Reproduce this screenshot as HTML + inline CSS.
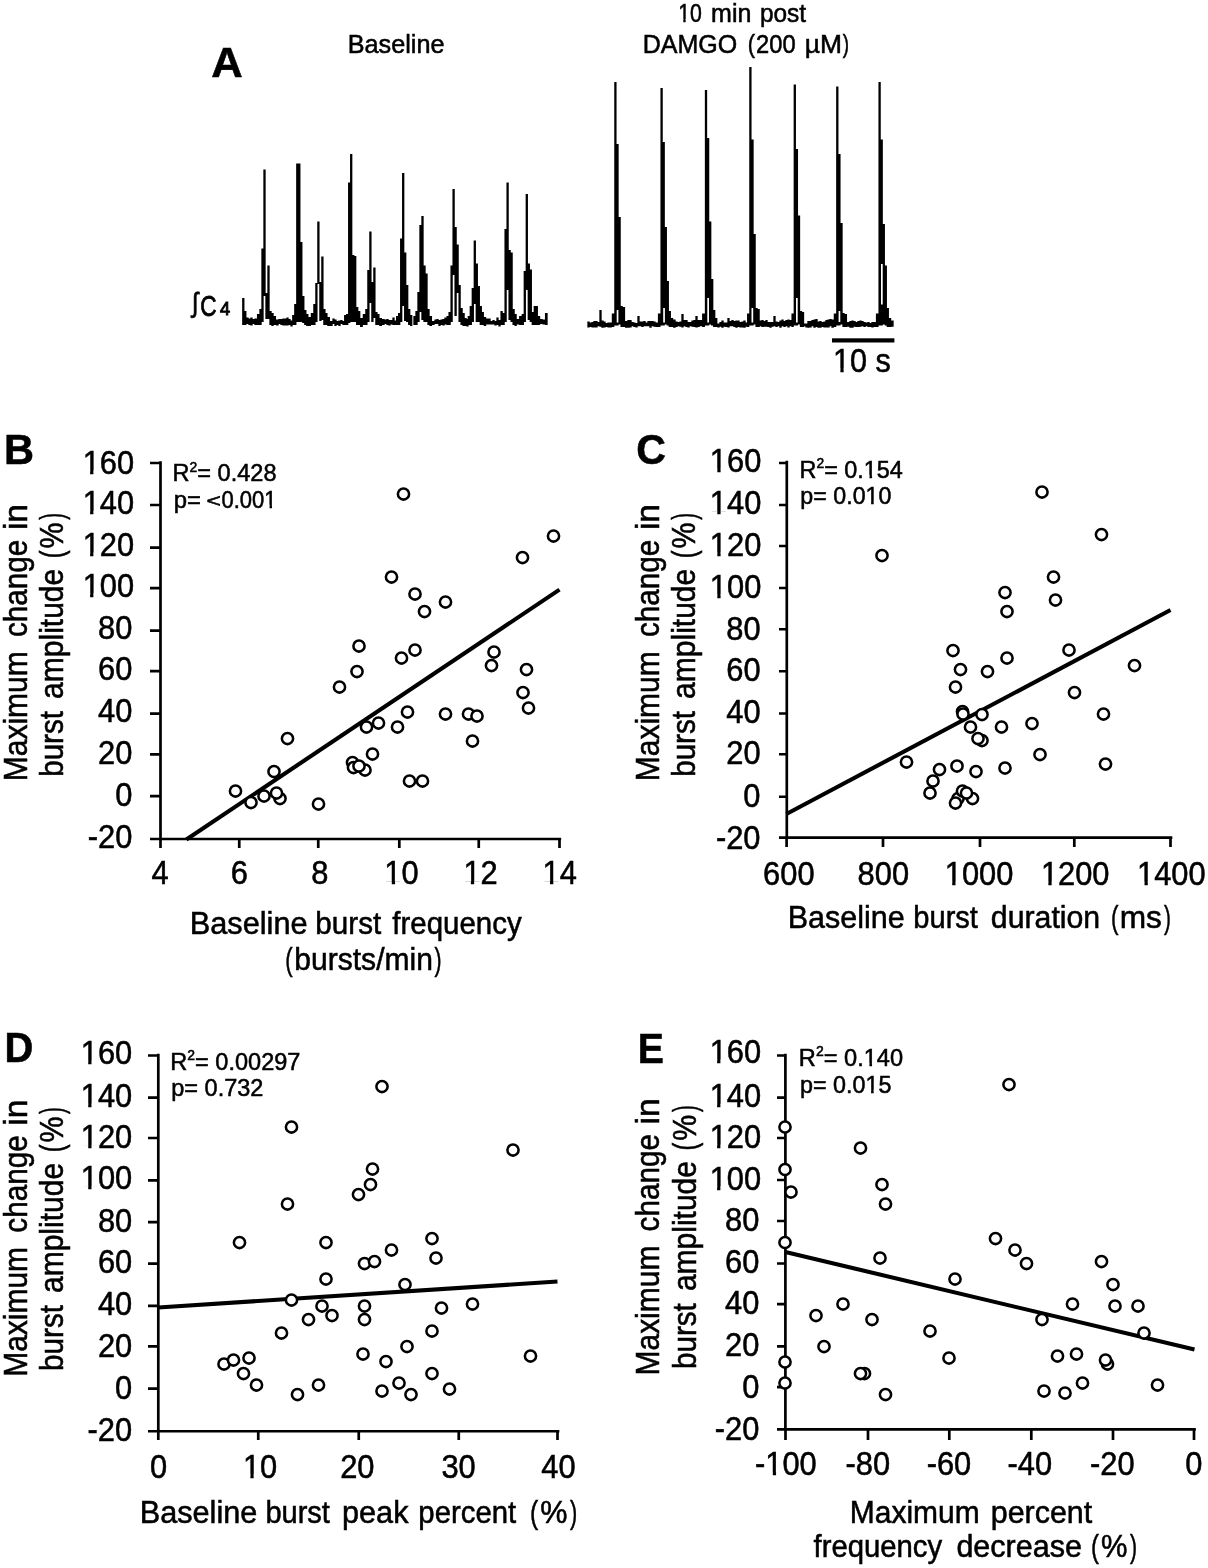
<!DOCTYPE html>
<html><head><meta charset="utf-8"><title>Figure</title>
<style>html,body{margin:0;padding:0;background:#fff;}svg{display:block;will-change:transform;}text{font-family:"Liberation Sans",sans-serif;}</style></head>
<body>
<svg width="1208" height="1568" viewBox="0 0 1208 1568" font-family='"Liberation Sans", sans-serif' fill="#000">
<rect width="1208" height="1568" fill="#fff"/>
<text transform="translate(211.19,77) scale(1.0135,1)" font-size="43" font-weight="bold" stroke="#000" stroke-width="0.55">A</text>
<text transform="translate(347.69,53) scale(0.9531,1)" font-size="26.5" stroke="#000" stroke-width="0.55">Baseline</text>
<g transform="translate(678.18,21.75) scale(0.8174,1)"><text font-size="26" stroke="#000" stroke-width="0.55">10</text><g fill="#fff"><rect x="0.51" y="-2.67" width="5.74" height="4.12"/><rect x="9.13" y="-2.67" width="5.53" height="4.12"/></g></g>
<text transform="translate(711.09,21.75) scale(0.9619,1)" font-size="26" stroke="#000" stroke-width="0.55">min</text>
<text transform="translate(759.94,21.75) scale(0.9406,1)" font-size="26" stroke="#000" stroke-width="0.55">post</text>
<text transform="translate(642.71,53) scale(0.9435,1)" font-size="26.5" stroke="#000" stroke-width="0.55">DAMGO</text>
<text transform="translate(747.67,53) scale(0.8194,1)" font-size="26.5" stroke="#000" stroke-width="0.55">(</text>
<text transform="translate(756.09,53) scale(0.8944,1)" font-size="26.5" stroke="#000" stroke-width="0.55">200</text>
<text transform="translate(804.74,53) scale(0.9963,1)" font-size="26.5" stroke="#000" stroke-width="0.55">µM</text>
<text transform="translate(842.63,53) scale(0.7116,1)" font-size="26.5" stroke="#000" stroke-width="0.55">)</text>
<text transform="translate(192.09,311.6) scale(0.8354,1)" font-size="27.5" stroke="#000" stroke-width="0.8">∫</text>
<text transform="translate(200.27,315.5) scale(0.7796,1)" font-size="29" stroke="#000" stroke-width="0.8">C</text>
<text transform="translate(219.94,314.8) scale(1.0410,1)" font-size="17.5" stroke="#000" stroke-width="0.9">4</text>
<path d="M242.15 298.0H244.45V325.0H242.15zM244.15 311.0H246.45V325.0H244.15zM246.35 317.5H248.65V324.0H246.35zM248.35 318.5H250.65V325.0H248.35zM250.35 317.5H252.65V325.5H250.35zM252.35 319.0H254.65V324.0H252.35zM254.35 318.5H257.05V325.0H254.35zM256.95 314.0H259.65V325.0H256.95zM259.35 309.0H261.65V325.0H259.35zM261.35 248.5H263.65V322.0H261.35zM263.35 169.5H265.65V296.0H263.35zM265.35 293.0H267.65V319.0H265.35zM267.35 265.5H269.65V319.0H267.35zM269.35 311.0H271.65V325.0H269.35zM271.35 313.0H273.65V326.0H271.35zM273.35 316.0H276.05V325.0H273.35zM275.95 319.5H278.65V325.5H275.95zM278.35 319.0H280.65V324.0H278.35zM280.35 319.0H282.65V325.0H280.35zM282.35 318.5H284.65V325.5H282.35zM284.35 318.5H286.65V325.5H284.35zM286.35 317.5H288.65V325.5H286.35zM288.35 319.0H290.65V325.0H288.35zM290.35 320.5H292.65V326.5H290.35zM292.15 315.0H294.45V325.0H292.15zM294.15 304.0H296.45V325.0H294.15zM296.15 163.5H298.45V322.0H296.15zM298.15 163.5H300.45V322.0H298.15zM300.15 242.0H302.45V322.0H300.15zM302.15 296.0H304.45V323.0H302.15zM304.15 310.0H306.45V325.0H304.15zM306.15 314.0H308.45V326.0H306.15zM308.15 317.0H310.90V326.0H308.15zM310.80 313.0H313.55V325.0H310.80zM313.25 304.0H315.55V325.0H313.25zM315.25 283.0H317.55V322.0H315.25zM317.25 221.5H319.55V284.0H317.25zM319.25 282.0H321.55V321.0H319.25zM321.25 256.5H323.55V320.0H321.25zM323.25 309.0H325.55V325.0H323.25zM325.25 313.0H327.55V325.0H325.25zM327.25 317.0H330.00V326.0H327.25zM329.90 321.0H332.65V326.0H329.90zM332.35 318.5H334.65V324.0H332.35zM334.35 319.5H336.65V326.0H334.35zM336.35 321.0H338.65V325.0H336.35zM338.35 320.5H340.65V326.0H338.35zM340.35 320.0H342.65V324.0H340.35zM342.35 321.0H344.65V325.0H342.35zM344.05 315.0H346.35V325.0H344.05zM346.05 314.0H348.35V325.0H346.05zM348.05 182.5H350.35V323.0H348.05zM350.05 154.0H352.35V322.0H350.05zM352.05 255.0H354.35V322.0H352.05zM354.05 256.0H356.35V322.0H354.05zM356.05 307.0H358.35V325.0H356.05zM358.05 311.0H360.35V325.0H358.05zM360.05 318.0H362.85V327.0H360.05zM362.75 314.0H365.55V325.0H362.75zM365.25 309.0H367.55V325.0H365.25zM367.25 270.0H369.55V322.0H367.25zM369.25 231.5H371.55V303.0H369.25zM371.25 282.0H373.55V322.0H371.25zM373.25 267.5H375.55V318.0H373.25zM375.25 312.0H377.55V325.0H375.25zM377.25 314.0H379.55V325.0H377.25zM379.25 318.0H382.00V326.0H379.25zM381.90 319.0H384.65V325.0H381.90zM384.35 319.5H386.65V324.0H384.35zM386.35 319.0H388.65V325.0H386.35zM388.35 320.0H390.65V325.5H388.35zM390.35 320.0H392.65V324.5H390.35zM392.35 317.5H394.65V325.0H392.35zM394.35 320.5H396.65V325.0H394.35zM396.05 316.0H398.35V325.0H396.05zM398.05 313.0H400.35V325.0H398.05zM400.05 238.5H402.35V322.0H400.05zM402.05 173.0H404.35V306.0H402.05zM404.05 252.5H406.35V321.0H404.05zM406.05 285.0H408.35V322.0H406.05zM408.05 309.0H410.35V325.0H408.05zM410.05 315.0H412.35V326.0H410.05zM413.35 316.0H415.65V325.0H413.35zM415.35 311.0H417.65V325.0H415.35zM417.35 292.0H419.65V322.0H417.35zM419.35 225.0H421.65V312.0H419.35zM421.35 216.0H423.65V320.0H421.35zM423.35 265.5H425.65V322.0H423.35zM425.35 273.5H427.65V322.0H425.35zM427.35 309.0H429.65V325.0H427.35zM429.35 316.0H432.05V326.0H429.35zM431.95 321.0H434.65V325.0H431.95zM434.35 319.5H436.65V324.0H434.35zM436.35 319.0H438.65V324.0H436.35zM438.35 320.0H440.65V326.0H438.35zM440.35 319.5H442.65V325.0H440.35zM442.35 319.0H444.65V325.5H442.35zM444.35 317.5H446.65V324.5H444.35zM446.45 316.0H448.75V325.0H446.45zM448.45 312.0H450.75V325.0H448.45zM450.45 265.5H452.75V322.0H450.45zM452.45 189.0H454.75V275.0H452.45zM454.45 227.0H456.75V316.0H454.45zM456.45 244.5H458.75V293.0H456.45zM458.45 285.0H460.75V322.0H458.45zM460.45 308.0H462.75V325.0H460.45zM462.45 313.0H464.75V326.0H462.45zM464.45 318.0H466.75V326.0H464.45zM466.35 319.0H468.65V326.5H466.35zM467.65 316.0H469.95V325.0H467.65zM469.65 306.0H471.95V325.0H469.65zM471.65 288.0H473.95V322.0H471.65zM473.65 240.5H475.95V304.0H473.65zM475.65 263.5H477.95V322.0H475.65zM477.65 286.0H479.95V322.0H477.65zM479.65 306.0H481.95V325.0H479.65zM481.65 312.0H483.95V325.0H481.65zM483.65 317.0H486.20V326.0H483.65zM486.10 318.5H488.65V324.5H486.10zM488.35 318.5H490.65V324.5H488.35zM490.35 321.0H492.65V324.5H490.35zM492.35 320.0H494.65V324.5H492.35zM494.35 321.0H496.65V325.5H494.35zM496.35 317.5H498.65V325.0H496.35zM498.35 320.0H500.65V326.5H498.35zM500.45 311.0H502.75V325.0H500.45zM502.45 313.0H504.75V325.0H502.45zM504.45 229.0H506.75V322.0H504.45zM506.45 182.5H508.75V290.0H506.45zM508.45 250.0H510.75V320.0H508.45zM510.45 252.5H512.75V322.0H510.45zM512.45 309.0H514.75V325.0H512.45zM514.45 314.0H516.75V326.0H514.45zM516.35 319.0H519.20V324.5H516.35zM519.10 316.0H521.95V325.0H519.10zM521.65 314.0H523.95V325.0H521.65zM523.65 271.0H525.95V322.0H523.65zM525.65 194.0H527.95V290.0H525.65zM527.65 263.5H529.95V320.0H527.65zM529.65 269.5H531.95V322.0H529.65zM531.65 312.0H533.95V325.0H531.65zM533.65 306.0H535.95V325.0H533.65zM535.65 306.0H537.95V325.0H535.65zM537.65 316.0H540.20V325.0H537.65zM540.10 319.0H542.65V324.0H540.10zM542.35 319.5H545.05V324.5H542.35zM544.95 313.0H547.65V325.0H544.95z" fill="#000"/>
<path d="M587.35 321.6H589.65V327.4H587.35zM589.35 322.6H591.65V327.0H589.35zM591.35 322.1H593.65V327.4H591.35zM593.35 321.1H595.65V327.4H593.35zM595.35 321.1H597.65V327.4H595.35zM597.35 322.1H599.65V326.2H597.35zM599.35 310.0H601.65V326.7H599.35zM601.35 320.6H603.65V327.8H601.35zM603.35 321.6H605.65V327.4H603.35zM605.35 323.1H607.65V327.0H605.35zM607.35 322.6H609.65V327.4H607.35zM609.35 322.6H611.90V327.4H609.35zM611.80 313.5H614.35V327.0H611.80zM614.25 82.0H616.55V325.5H614.25zM616.35 144.0H618.65V325.5H616.35zM618.45 217.0H620.75V324.5H618.45zM620.45 306.0H622.75V327.0H620.45zM622.45 307.0H625.10V327.0H622.45zM625.00 321.1H627.65V327.8H625.00zM627.35 320.1H629.65V327.8H627.35zM629.35 320.1H631.65V327.4H629.35zM631.35 322.1H633.65V326.2H631.35zM633.35 322.6H635.65V327.0H633.35zM635.35 323.1H637.65V327.4H635.35zM637.35 316.0H639.65V326.2H637.35zM639.35 321.6H641.65V326.2H639.35zM641.35 321.6H643.65V327.0H641.35zM643.35 321.1H645.65V326.2H643.35zM645.35 322.6H647.65V326.2H645.35zM647.35 321.1H649.65V326.2H647.35zM649.35 321.1H651.65V327.8H649.35zM651.35 321.1H653.65V326.2H651.35zM653.35 321.6H655.65V326.7H653.35zM655.35 322.6H658.00V327.0H655.35zM657.90 313.5H660.55V327.0H657.90zM660.45 88.0H662.75V325.5H660.45zM662.55 142.0H664.85V325.5H662.55zM664.65 227.0H666.95V324.5H664.65zM666.65 281.0H668.95V325.5H666.65zM668.65 311.0H670.95V327.0H668.65zM670.65 318.0H673.20V327.0H670.65zM673.10 319.6H675.65V327.8H673.10zM675.35 321.6H677.65V327.0H675.35zM677.35 322.1H679.65V326.2H677.35zM679.35 321.6H681.65V326.7H679.35zM681.35 314.0H683.65V327.4H681.35zM683.35 320.1H685.65V326.2H683.35zM685.35 320.1H687.65V327.0H685.35zM687.35 322.1H689.65V327.4H687.35zM689.35 322.1H691.65V326.2H689.35zM691.35 320.6H693.65V326.7H691.35zM693.35 320.1H695.65V327.0H693.35zM695.35 316.0H697.65V327.4H695.35zM697.35 320.1H699.65V327.0H697.35zM699.35 320.1H702.20V326.2H699.35zM702.10 313.5H704.95V327.0H702.10zM704.85 90.0H707.15V325.5H704.85zM706.95 138.0H709.25V325.5H706.95zM709.05 221.5H711.35V324.5H709.05zM711.05 279.0H713.35V325.5H711.05zM713.05 310.0H715.35V327.0H713.05zM715.05 318.0H717.40V327.0H715.05zM717.30 323.6H719.65V327.4H717.30zM719.35 322.1H721.65V326.7H719.35zM721.35 320.6H723.65V327.8H721.35zM723.35 322.6H725.65V326.7H723.35zM725.35 322.6H727.65V327.0H725.35zM727.35 318.0H729.65V327.4H727.35zM729.35 321.1H731.65V326.2H729.35zM731.35 320.1H733.65V326.2H731.35zM733.35 321.1H735.65V327.0H733.35zM735.35 320.6H737.65V327.8H735.35zM737.35 320.6H739.65V327.0H737.35zM739.35 322.1H741.65V327.4H739.35zM741.35 321.6H743.65V327.4H741.35zM743.35 320.6H745.65V327.8H743.35zM745.35 322.6H747.65V326.7H745.35zM747.05 313.5H749.35V327.0H747.05zM749.25 67.0H751.55V325.5H749.25zM751.35 139.5H753.65V325.5H751.35zM753.45 234.0H755.75V324.5H753.45zM755.45 308.0H757.75V327.0H755.45zM757.45 309.0H759.75V327.0H757.45zM759.35 320.6H761.65V326.2H759.35zM761.35 320.1H763.65V327.0H761.35zM763.35 321.1H765.65V326.7H763.35zM765.35 320.1H767.65V326.7H765.35zM767.35 322.1H769.65V327.0H767.35zM769.35 322.1H771.65V327.8H769.35zM771.35 322.1H773.65V326.7H771.35zM773.35 316.0H775.65V326.2H773.35zM775.35 321.6H777.65V327.0H775.35zM777.35 322.1H779.65V326.2H777.35zM779.35 320.6H781.65V327.8H779.35zM781.35 319.6H783.65V326.2H781.35zM783.35 321.1H785.65V327.0H783.35zM785.35 320.1H787.65V326.2H785.35zM787.35 319.6H789.65V327.4H787.35zM789.35 320.1H791.65V326.2H789.35zM791.45 313.5H793.75V327.0H791.45zM793.65 84.5H795.95V325.5H793.65zM795.75 149.0H798.05V325.5H795.75zM797.85 215.5H800.15V324.5H797.85zM799.85 311.0H802.15V327.0H799.85zM801.85 312.0H804.15V327.0H801.85zM803.35 323.6H805.65V326.2H803.35zM805.35 323.6H807.65V327.4H805.35zM807.35 321.1H809.65V327.8H807.35zM809.35 321.1H811.65V327.4H809.35zM811.35 320.1H813.65V326.2H811.35zM813.35 319.6H815.65V327.8H813.35zM815.35 319.1H817.65V327.0H815.35zM817.35 321.6H819.65V327.8H817.35zM819.35 321.1H821.65V327.8H819.35zM821.35 322.1H823.65V327.0H821.35zM823.35 321.6H825.65V327.4H823.35zM825.35 320.1H827.65V327.4H825.35zM827.35 319.6H829.65V327.4H827.35zM829.35 319.1H831.65V326.2H829.35zM831.35 319.6H833.85V327.8H831.35zM833.75 313.5H836.25V327.0H833.75zM836.15 86.5H838.45V325.5H836.15zM838.25 154.0H840.55V325.5H838.25zM840.35 223.0H842.65V324.5H840.35zM842.35 313.0H844.65V327.0H842.35zM844.35 314.0H847.05V327.0H844.35zM846.95 322.1H849.65V326.7H846.95zM849.35 321.1H851.65V327.8H849.35zM851.35 320.6H853.65V327.8H851.35zM853.35 321.1H855.65V326.7H853.35zM855.35 322.1H857.65V327.0H855.35zM857.35 321.1H859.65V327.0H857.35zM859.35 320.6H861.65V326.7H859.35zM861.35 321.1H863.65V326.2H861.35zM863.35 322.1H865.65V327.0H863.35zM865.35 322.6H867.65V326.2H865.35zM867.35 322.1H869.65V327.0H867.35zM869.35 323.1H871.65V327.0H869.35zM871.35 322.1H873.65V327.4H871.35zM873.35 322.1H876.00V327.0H873.35zM875.90 313.5H878.55V327.0H875.90zM878.45 82.0H880.75V325.5H878.45zM880.55 139.5H882.85V325.5H880.55zM882.65 224.0H884.95V324.5H882.65zM884.65 265.5H886.95V325.5H884.65zM886.65 308.0H888.95V327.0H886.65zM888.65 318.0H891.20V327.0H888.65zM891.10 320.6H893.65V326.7H891.10z" fill="#000"/>
<path d="M616.7 310h1.7V322.5h-1.7zM663.2 308h1.7V322.5h-1.7zM707.3 298h1.7V322.5h-1.7zM751.5 308h1.7V322.5h-1.7zM796.0 298h1.7V322.5h-1.7zM838.6 311h1.7V322h-1.7zM881.0 264h1.7V304.5h-1.7z" fill="#fff"/>
<rect x="832" y="338.3" width="62.4" height="4.2" fill="#000"/>
<g transform="translate(832.98,371.6) scale(0.9270,1)"><text font-size="33" stroke="#000" stroke-width="0.55">10 s</text><g fill="#fff"><rect x="1.04" y="-3.19" width="6.96" height="4.64"/><rect x="11.51" y="-3.19" width="6.71" height="4.64"/></g></g>
<text transform="translate(3.97,464) scale(0.9895,1)" font-size="42" font-weight="bold" stroke="#000" stroke-width="0.55">B</text>
<text transform="translate(636.13,464.3) scale(0.9796,1)" font-size="42" font-weight="bold" stroke="#000" stroke-width="0.55">C</text>
<text transform="translate(4.58,1062.3) scale(0.9504,1)" font-size="42" font-weight="bold" stroke="#000" stroke-width="0.55">D</text>
<text transform="translate(637.63,1062.5) scale(0.9332,1)" font-size="42" font-weight="bold" stroke="#000" stroke-width="0.55">E</text>
<path d="M160.5 461.15V840.35M150 839H561.15M150 463H160.5M150 505H160.5M150 547.6H160.5M150 588.2H160.5M150 630.6H160.5M150 671.2H160.5M150 713.7H160.5M150 754.3H160.5M150 796.2H160.5M160.5 839V848M239.25 839V848M318.25 839V848M399.3 839V848M478.75 839V848M559.5 839V848" stroke="#000" stroke-width="2.7" fill="none"/>
<g transform="translate(82.63,473.85) scale(0.9350,1)"><text font-size="33" stroke="#000" stroke-width="0.55">160</text><g fill="#fff"><rect x="1.04" y="-3.19" width="6.96" height="4.64"/><rect x="11.51" y="-3.19" width="6.71" height="4.64"/></g></g>
<g transform="translate(82.63,514.1) scale(0.9350,1)"><text font-size="33" stroke="#000" stroke-width="0.55">140</text><g fill="#fff"><rect x="1.04" y="-3.19" width="6.96" height="4.64"/><rect x="11.51" y="-3.19" width="6.71" height="4.64"/></g></g>
<g transform="translate(82.63,555.75) scale(0.9350,1)"><text font-size="33" stroke="#000" stroke-width="0.55">120</text><g fill="#fff"><rect x="1.04" y="-3.19" width="6.96" height="4.64"/><rect x="11.51" y="-3.19" width="6.71" height="4.64"/></g></g>
<g transform="translate(82.63,596.6) scale(0.9350,1)"><text font-size="33" stroke="#000" stroke-width="0.55">100</text><g fill="#fff"><rect x="1.04" y="-3.19" width="6.96" height="4.64"/><rect x="11.51" y="-3.19" width="6.71" height="4.64"/></g></g>
<text transform="translate(98.03,639.35) scale(0.9350,1)" font-size="33" stroke="#000" stroke-width="0.55">80</text>
<text transform="translate(98.03,679.95) scale(0.9350,1)" font-size="33" stroke="#000" stroke-width="0.55">60</text>
<text transform="translate(98.03,722.45) scale(0.9350,1)" font-size="33" stroke="#000" stroke-width="0.55">40</text>
<text transform="translate(98.03,763.95) scale(0.9350,1)" font-size="33" stroke="#000" stroke-width="0.55">20</text>
<text transform="translate(115.16,805.75) scale(0.9350,1)" font-size="33" stroke="#000" stroke-width="0.55">0</text>
<text transform="translate(87.70,848.25) scale(0.9350,1)" font-size="33" stroke="#000" stroke-width="0.55">-20</text>
<text transform="translate(151.51,884.4) scale(0.9350,1)" font-size="33" stroke="#000" stroke-width="0.55">4</text>
<text transform="translate(230.82,884.4) scale(0.9350,1)" font-size="33" stroke="#000" stroke-width="0.55">6</text>
<text transform="translate(311.19,884.4) scale(0.9350,1)" font-size="33" stroke="#000" stroke-width="0.55">8</text>
<g transform="translate(384.30,884.4) scale(0.9350,1)"><text font-size="33" stroke="#000" stroke-width="0.55">10</text><g fill="#fff"><rect x="1.04" y="-3.19" width="6.96" height="4.64"/><rect x="11.51" y="-3.19" width="6.71" height="4.64"/></g></g>
<g transform="translate(463.39,884.4) scale(0.9350,1)"><text font-size="33" stroke="#000" stroke-width="0.55">12</text><g fill="#fff"><rect x="1.04" y="-3.19" width="6.96" height="4.64"/><rect x="11.51" y="-3.19" width="6.71" height="4.64"/></g></g>
<g transform="translate(542.54,884.4) scale(0.9350,1)"><text font-size="33" stroke="#000" stroke-width="0.55">14</text><g fill="#fff"><rect x="1.04" y="-3.19" width="6.96" height="4.64"/><rect x="11.51" y="-3.19" width="6.71" height="4.64"/></g></g>
<line x1="186.4" y1="839.5" x2="559.5" y2="589.6" stroke="#000" stroke-width="4.1"/>
<g fill="#fff" stroke="#000" stroke-width="2.55"><circle cx="235.5" cy="791.0" r="5.6"/><circle cx="251.0" cy="802.5" r="5.6"/><circle cx="264.0" cy="796.0" r="5.6"/><circle cx="274.0" cy="771.5" r="5.6"/><circle cx="280.0" cy="798.5" r="5.6"/><circle cx="276.5" cy="793.0" r="5.6"/><circle cx="287.5" cy="738.5" r="5.6"/><circle cx="318.5" cy="804.0" r="5.6"/><circle cx="339.5" cy="687.0" r="5.6"/><circle cx="352.5" cy="762.5" r="5.6"/><circle cx="353.5" cy="767.5" r="5.6"/><circle cx="365.0" cy="770.0" r="5.6"/><circle cx="359.0" cy="766.0" r="5.6"/><circle cx="372.5" cy="754.0" r="5.6"/><circle cx="366.5" cy="727.0" r="5.6"/><circle cx="378.5" cy="723.0" r="5.6"/><circle cx="357.0" cy="671.5" r="5.6"/><circle cx="359.0" cy="646.0" r="5.6"/><circle cx="391.5" cy="577.0" r="5.6"/><circle cx="397.5" cy="727.0" r="5.6"/><circle cx="401.5" cy="658.0" r="5.6"/><circle cx="403.5" cy="494.0" r="5.6"/><circle cx="407.5" cy="712.0" r="5.6"/><circle cx="409.5" cy="781.0" r="5.6"/><circle cx="422.5" cy="781.0" r="5.6"/><circle cx="415.0" cy="650.0" r="5.6"/><circle cx="415.0" cy="594.0" r="5.6"/><circle cx="424.5" cy="611.5" r="5.6"/><circle cx="445.5" cy="602.0" r="5.6"/><circle cx="445.5" cy="714.0" r="5.6"/><circle cx="468.5" cy="714.0" r="5.6"/><circle cx="477.0" cy="716.0" r="5.6"/><circle cx="472.5" cy="741.0" r="5.6"/><circle cx="491.5" cy="665.5" r="5.6"/><circle cx="494.0" cy="652.0" r="5.6"/><circle cx="522.5" cy="557.5" r="5.6"/><circle cx="523.0" cy="692.5" r="5.6"/><circle cx="526.5" cy="669.5" r="5.6"/><circle cx="528.5" cy="708.0" r="5.6"/><circle cx="553.5" cy="536.0" r="5.6"/></g>
<path d="M786.8 460.65V838.95M779 837.6H1172.35M779 463H786.8M779 505H786.8M779 546H786.8M779 588H786.8M779 629.25H786.8M779 671.25H786.8M779 713.5H786.8M779 754.25H786.8M779 796.75H786.8M786.6 837.6V847M883 837.6V847M980 837.6V847M1074.3 837.6V847M1170.5 837.6V847" stroke="#000" stroke-width="2.7" fill="none"/>
<g transform="translate(709.83,471.85) scale(0.9350,1)"><text font-size="33" stroke="#000" stroke-width="0.55">160</text><g fill="#fff"><rect x="1.04" y="-3.19" width="6.96" height="4.64"/><rect x="11.51" y="-3.19" width="6.71" height="4.64"/></g></g>
<g transform="translate(709.83,514.35) scale(0.9350,1)"><text font-size="33" stroke="#000" stroke-width="0.55">140</text><g fill="#fff"><rect x="1.04" y="-3.19" width="6.96" height="4.64"/><rect x="11.51" y="-3.19" width="6.71" height="4.64"/></g></g>
<g transform="translate(709.83,555.6) scale(0.9350,1)"><text font-size="33" stroke="#000" stroke-width="0.55">120</text><g fill="#fff"><rect x="1.04" y="-3.19" width="6.96" height="4.64"/><rect x="11.51" y="-3.19" width="6.71" height="4.64"/></g></g>
<g transform="translate(709.83,597.6) scale(0.9350,1)"><text font-size="33" stroke="#000" stroke-width="0.55">100</text><g fill="#fff"><rect x="1.04" y="-3.19" width="6.96" height="4.64"/><rect x="11.51" y="-3.19" width="6.71" height="4.64"/></g></g>
<text transform="translate(726.23,639.85) scale(0.9350,1)" font-size="33" stroke="#000" stroke-width="0.55">80</text>
<text transform="translate(726.23,680.6) scale(0.9350,1)" font-size="33" stroke="#000" stroke-width="0.55">60</text>
<text transform="translate(726.23,722.85) scale(0.9350,1)" font-size="33" stroke="#000" stroke-width="0.55">40</text>
<text transform="translate(726.23,764.35) scale(0.9350,1)" font-size="33" stroke="#000" stroke-width="0.55">20</text>
<text transform="translate(743.36,806.85) scale(0.9350,1)" font-size="33" stroke="#000" stroke-width="0.55">0</text>
<text transform="translate(715.90,849.35) scale(0.9350,1)" font-size="33" stroke="#000" stroke-width="0.55">-20</text>
<text transform="translate(763.08,884.9) scale(0.9350,1)" font-size="33" stroke="#000" stroke-width="0.55">600</text>
<text transform="translate(857.60,884.9) scale(0.9350,1)" font-size="33" stroke="#000" stroke-width="0.55">800</text>
<g transform="translate(944.73,884.9) scale(0.9350,1)"><text font-size="33" stroke="#000" stroke-width="0.55">1000</text><g fill="#fff"><rect x="1.04" y="-3.19" width="6.96" height="4.64"/><rect x="11.51" y="-3.19" width="6.71" height="4.64"/></g></g>
<g transform="translate(1040.88,884.9) scale(0.9350,1)"><text font-size="33" stroke="#000" stroke-width="0.55">1200</text><g fill="#fff"><rect x="1.04" y="-3.19" width="6.96" height="4.64"/><rect x="11.51" y="-3.19" width="6.71" height="4.64"/></g></g>
<g transform="translate(1137.03,884.9) scale(0.9350,1)"><text font-size="33" stroke="#000" stroke-width="0.55">1400</text><g fill="#fff"><rect x="1.04" y="-3.19" width="6.96" height="4.64"/><rect x="11.51" y="-3.19" width="6.71" height="4.64"/></g></g>
<line x1="786.4" y1="814" x2="1170.5" y2="610" stroke="#000" stroke-width="4.1"/>
<g fill="#fff" stroke="#000" stroke-width="2.55"><circle cx="882.0" cy="555.5" r="5.6"/><circle cx="906.5" cy="762.0" r="5.6"/><circle cx="930.0" cy="793.0" r="5.6"/><circle cx="933.0" cy="781.0" r="5.6"/><circle cx="939.5" cy="769.5" r="5.6"/><circle cx="953.0" cy="650.5" r="5.6"/><circle cx="955.5" cy="687.0" r="5.6"/><circle cx="960.5" cy="669.5" r="5.6"/><circle cx="957.0" cy="766.0" r="5.6"/><circle cx="962.5" cy="711.5" r="5.6"/><circle cx="963.0" cy="714.0" r="5.6"/><circle cx="970.5" cy="727.0" r="5.6"/><circle cx="982.0" cy="740.5" r="5.6"/><circle cx="978.0" cy="738.5" r="5.6"/><circle cx="982.0" cy="714.5" r="5.6"/><circle cx="976.0" cy="771.5" r="5.6"/><circle cx="958.0" cy="798.5" r="5.6"/><circle cx="962.5" cy="791.0" r="5.6"/><circle cx="972.5" cy="798.5" r="5.6"/><circle cx="966.5" cy="793.0" r="5.6"/><circle cx="955.5" cy="803.0" r="5.6"/><circle cx="987.5" cy="671.5" r="5.6"/><circle cx="1001.5" cy="727.0" r="5.6"/><circle cx="1005.0" cy="592.5" r="5.6"/><circle cx="1007.0" cy="611.5" r="5.6"/><circle cx="1007.0" cy="658.0" r="5.6"/><circle cx="1005.0" cy="768.0" r="5.6"/><circle cx="1032.0" cy="723.5" r="5.6"/><circle cx="1040.0" cy="754.5" r="5.6"/><circle cx="1042.0" cy="492.0" r="5.6"/><circle cx="1053.5" cy="577.0" r="5.6"/><circle cx="1055.5" cy="600.0" r="5.6"/><circle cx="1069.0" cy="650.0" r="5.6"/><circle cx="1074.5" cy="692.5" r="5.6"/><circle cx="1101.5" cy="534.5" r="5.6"/><circle cx="1103.5" cy="714.0" r="5.6"/><circle cx="1105.5" cy="764.0" r="5.6"/><circle cx="1134.5" cy="665.5" r="5.6"/></g>
<path d="M158.3 1053.65V1432.6M148 1431.25H559.35M148 1055.5H158.3M148 1097.7H158.3M148 1138H158.3M148 1180.3H158.3M148 1222.2H158.3M148 1263.6H158.3M148 1305.8H158.3M148 1346.4H158.3M148 1388.6H158.3M158.3 1431.25V1440M258.25 1431.25V1440M358.75 1431.25V1440M458.75 1431.25V1440M557.5 1431.25V1440" stroke="#000" stroke-width="2.7" fill="none"/>
<g transform="translate(80.73,1063.95) scale(0.9350,1)"><text font-size="33" stroke="#000" stroke-width="0.55">160</text><g fill="#fff"><rect x="1.04" y="-3.19" width="6.96" height="4.64"/><rect x="11.51" y="-3.19" width="6.71" height="4.64"/></g></g>
<g transform="translate(80.73,1106.75) scale(0.9350,1)"><text font-size="33" stroke="#000" stroke-width="0.55">140</text><g fill="#fff"><rect x="1.04" y="-3.19" width="6.96" height="4.64"/><rect x="11.51" y="-3.19" width="6.71" height="4.64"/></g></g>
<g transform="translate(80.73,1148.25) scale(0.9350,1)"><text font-size="33" stroke="#000" stroke-width="0.55">120</text><g fill="#fff"><rect x="1.04" y="-3.19" width="6.96" height="4.64"/><rect x="11.51" y="-3.19" width="6.71" height="4.64"/></g></g>
<g transform="translate(80.73,1189.25) scale(0.9350,1)"><text font-size="33" stroke="#000" stroke-width="0.55">100</text><g fill="#fff"><rect x="1.04" y="-3.19" width="6.96" height="4.64"/><rect x="11.51" y="-3.19" width="6.71" height="4.64"/></g></g>
<text transform="translate(97.93,1231.75) scale(0.9350,1)" font-size="33" stroke="#000" stroke-width="0.55">80</text>
<text transform="translate(97.93,1272.95) scale(0.9350,1)" font-size="33" stroke="#000" stroke-width="0.55">60</text>
<text transform="translate(97.93,1314.85) scale(0.9350,1)" font-size="33" stroke="#000" stroke-width="0.55">40</text>
<text transform="translate(97.93,1356.75) scale(0.9350,1)" font-size="33" stroke="#000" stroke-width="0.55">20</text>
<text transform="translate(115.06,1398.85) scale(0.9350,1)" font-size="33" stroke="#000" stroke-width="0.55">0</text>
<text transform="translate(87.60,1440.75) scale(0.9350,1)" font-size="33" stroke="#000" stroke-width="0.55">-20</text>
<text transform="translate(149.90,1477.5) scale(0.9350,1)" font-size="33" stroke="#000" stroke-width="0.55">0</text>
<g transform="translate(242.90,1477.5) scale(0.9350,1)"><text font-size="33" stroke="#000" stroke-width="0.55">10</text><g fill="#fff"><rect x="1.04" y="-3.19" width="6.96" height="4.64"/><rect x="11.51" y="-3.19" width="6.71" height="4.64"/></g></g>
<text transform="translate(340.18,1477.5) scale(0.9350,1)" font-size="33" stroke="#000" stroke-width="0.55">20</text>
<text transform="translate(441.38,1477.5) scale(0.9350,1)" font-size="33" stroke="#000" stroke-width="0.55">30</text>
<text transform="translate(541.36,1477.5) scale(0.9350,1)" font-size="33" stroke="#000" stroke-width="0.55">40</text>
<line x1="158.3" y1="1307.5" x2="557.5" y2="1281.5" stroke="#000" stroke-width="4.1"/>
<g fill="#fff" stroke="#000" stroke-width="2.55"><circle cx="224.0" cy="1364.0" r="5.6"/><circle cx="233.5" cy="1360.0" r="5.6"/><circle cx="243.5" cy="1373.5" r="5.6"/><circle cx="249.0" cy="1358.0" r="5.6"/><circle cx="256.5" cy="1385.0" r="5.6"/><circle cx="239.5" cy="1242.5" r="5.6"/><circle cx="281.5" cy="1333.0" r="5.6"/><circle cx="287.5" cy="1204.0" r="5.6"/><circle cx="291.5" cy="1127.0" r="5.6"/><circle cx="291.5" cy="1300.0" r="5.6"/><circle cx="297.5" cy="1394.5" r="5.6"/><circle cx="308.5" cy="1319.5" r="5.6"/><circle cx="318.5" cy="1385.0" r="5.6"/><circle cx="322.0" cy="1306.0" r="5.6"/><circle cx="326.0" cy="1279.0" r="5.6"/><circle cx="326.0" cy="1242.5" r="5.6"/><circle cx="332.0" cy="1315.5" r="5.6"/><circle cx="358.5" cy="1194.5" r="5.6"/><circle cx="363.0" cy="1354.0" r="5.6"/><circle cx="364.5" cy="1263.5" r="5.6"/><circle cx="364.5" cy="1306.0" r="5.6"/><circle cx="364.5" cy="1319.5" r="5.6"/><circle cx="370.5" cy="1184.5" r="5.6"/><circle cx="372.5" cy="1169.0" r="5.6"/><circle cx="374.5" cy="1261.5" r="5.6"/><circle cx="382.0" cy="1086.5" r="5.6"/><circle cx="382.0" cy="1391.0" r="5.6"/><circle cx="386.0" cy="1361.5" r="5.6"/><circle cx="391.5" cy="1250.0" r="5.6"/><circle cx="399.0" cy="1383.0" r="5.6"/><circle cx="405.0" cy="1284.5" r="5.6"/><circle cx="407.0" cy="1346.5" r="5.6"/><circle cx="411.0" cy="1394.5" r="5.6"/><circle cx="432.0" cy="1238.5" r="5.6"/><circle cx="432.0" cy="1331.0" r="5.6"/><circle cx="432.0" cy="1373.5" r="5.6"/><circle cx="436.0" cy="1258.0" r="5.6"/><circle cx="441.5" cy="1308.0" r="5.6"/><circle cx="449.5" cy="1389.0" r="5.6"/><circle cx="472.5" cy="1304.0" r="5.6"/><circle cx="513.0" cy="1150.0" r="5.6"/><circle cx="530.5" cy="1356.0" r="5.6"/></g>
<path d="M785.4 1053.65V1430.75M777 1429.4H1195.85M777 1055.5H785.4M777 1097.7H785.4M777 1138H785.4M777 1180H785.4M777 1221H785.4M777 1263.5H785.4M777 1304.2H785.4M777 1346.3H785.4M777 1387.2H785.4M785.5 1429.4V1440.1M868 1429.4V1440.1M949.3 1429.4V1440.1M1031.3 1429.4V1440.1M1113 1429.4V1440.1M1194 1429.4V1440.1" stroke="#000" stroke-width="2.7" fill="none"/>
<g transform="translate(709.63,1062.85) scale(0.9350,1)"><text font-size="33" stroke="#000" stroke-width="0.55">160</text><g fill="#fff"><rect x="1.04" y="-3.19" width="6.96" height="4.64"/><rect x="11.51" y="-3.19" width="6.71" height="4.64"/></g></g>
<g transform="translate(709.63,1107.1) scale(0.9350,1)"><text font-size="33" stroke="#000" stroke-width="0.55">140</text><g fill="#fff"><rect x="1.04" y="-3.19" width="6.96" height="4.64"/><rect x="11.51" y="-3.19" width="6.71" height="4.64"/></g></g>
<g transform="translate(709.63,1147.85) scale(0.9350,1)"><text font-size="33" stroke="#000" stroke-width="0.55">120</text><g fill="#fff"><rect x="1.04" y="-3.19" width="6.96" height="4.64"/><rect x="11.51" y="-3.19" width="6.71" height="4.64"/></g></g>
<g transform="translate(709.63,1189.6) scale(0.9350,1)"><text font-size="33" stroke="#000" stroke-width="0.55">100</text><g fill="#fff"><rect x="1.04" y="-3.19" width="6.96" height="4.64"/><rect x="11.51" y="-3.19" width="6.71" height="4.64"/></g></g>
<text transform="translate(725.03,1230.6) scale(0.9350,1)" font-size="33" stroke="#000" stroke-width="0.55">80</text>
<text transform="translate(725.03,1272.85) scale(0.9350,1)" font-size="33" stroke="#000" stroke-width="0.55">60</text>
<text transform="translate(725.03,1314.45) scale(0.9350,1)" font-size="33" stroke="#000" stroke-width="0.55">40</text>
<text transform="translate(725.03,1355.95) scale(0.9350,1)" font-size="33" stroke="#000" stroke-width="0.55">20</text>
<text transform="translate(742.16,1397.85) scale(0.9350,1)" font-size="33" stroke="#000" stroke-width="0.55">0</text>
<text transform="translate(714.70,1439.85) scale(0.9350,1)" font-size="33" stroke="#000" stroke-width="0.55">-20</text>
<g transform="translate(755.03,1475.1) scale(0.9350,1)"><text font-size="33" stroke="#000" stroke-width="0.55">-100</text><g fill="#fff"><rect x="12.03" y="-3.19" width="6.96" height="4.64"/><rect x="22.50" y="-3.19" width="6.71" height="4.64"/></g></g>
<text transform="translate(845.49,1475.1) scale(0.9350,1)" font-size="33" stroke="#000" stroke-width="0.55">-80</text>
<text transform="translate(926.69,1475.1) scale(0.9350,1)" font-size="33" stroke="#000" stroke-width="0.55">-60</text>
<text transform="translate(1007.59,1475.1) scale(0.9350,1)" font-size="33" stroke="#000" stroke-width="0.55">-40</text>
<text transform="translate(1090.09,1475.1) scale(0.9350,1)" font-size="33" stroke="#000" stroke-width="0.55">-20</text>
<text transform="translate(1185.15,1475.1) scale(0.9350,1)" font-size="33" stroke="#000" stroke-width="0.55">0</text>
<line x1="785.4" y1="1252" x2="1194.5" y2="1349.6" stroke="#000" stroke-width="4.1"/>
<g fill="#fff" stroke="#000" stroke-width="2.55"><circle cx="785.0" cy="1127.0" r="5.6"/><circle cx="785.0" cy="1169.5" r="5.6"/><circle cx="791.0" cy="1192.0" r="5.6"/><circle cx="785.0" cy="1242.5" r="5.6"/><circle cx="785.0" cy="1362.0" r="5.6"/><circle cx="785.0" cy="1383.0" r="5.6"/><circle cx="816.0" cy="1315.5" r="5.6"/><circle cx="824.0" cy="1346.5" r="5.6"/><circle cx="843.0" cy="1304.0" r="5.6"/><circle cx="860.5" cy="1148.0" r="5.6"/><circle cx="864.5" cy="1373.5" r="5.6"/><circle cx="860.5" cy="1373.5" r="5.6"/><circle cx="872.0" cy="1319.5" r="5.6"/><circle cx="880.0" cy="1258.0" r="5.6"/><circle cx="882.0" cy="1184.5" r="5.6"/><circle cx="885.5" cy="1204.0" r="5.6"/><circle cx="885.5" cy="1394.5" r="5.6"/><circle cx="930.0" cy="1331.0" r="5.6"/><circle cx="949.0" cy="1358.0" r="5.6"/><circle cx="955.0" cy="1279.0" r="5.6"/><circle cx="995.5" cy="1238.5" r="5.6"/><circle cx="1009.0" cy="1084.5" r="5.6"/><circle cx="1015.0" cy="1250.0" r="5.6"/><circle cx="1026.5" cy="1263.5" r="5.6"/><circle cx="1042.0" cy="1319.5" r="5.6"/><circle cx="1044.0" cy="1391.0" r="5.6"/><circle cx="1057.5" cy="1356.0" r="5.6"/><circle cx="1065.0" cy="1393.0" r="5.6"/><circle cx="1072.5" cy="1304.0" r="5.6"/><circle cx="1076.5" cy="1354.0" r="5.6"/><circle cx="1082.5" cy="1383.0" r="5.6"/><circle cx="1101.5" cy="1261.5" r="5.6"/><circle cx="1107.5" cy="1364.0" r="5.6"/><circle cx="1105.5" cy="1360.0" r="5.6"/><circle cx="1113.0" cy="1284.5" r="5.6"/><circle cx="1115.0" cy="1306.0" r="5.6"/><circle cx="1138.0" cy="1306.0" r="5.6"/><circle cx="1144.0" cy="1333.0" r="5.6"/><circle cx="1157.5" cy="1385.0" r="5.6"/></g>
<g transform="translate(172.58,481.25) scale(0.9607,1)" stroke="#000" stroke-width="0.55"><text font-size="24.5">R</text><text x="17.69" y="-9.6" font-size="14.5">2</text><text x="25.76" font-size="24.5">= 0.428</text><g fill="#fff" stroke="none"></g></g>
<text transform="translate(173.72,507.5) scale(0.9736,1)" font-size="24.5" stroke="#000" stroke-width="0.55">p=</text>
<text transform="translate(206.54,506.6) scale(1.4080,1)" font-size="17.5" stroke="#000" stroke-width="0.55">&lt;</text>
<g transform="translate(221.39,507.5) scale(0.8991,1)"><text font-size="24.5" stroke="#000" stroke-width="0.55">0.001</text><g fill="#fff"><rect x="48.08" y="-2.56" width="5.47" height="4.01"/><rect x="56.31" y="-2.56" width="5.28" height="4.01"/></g></g>
<g transform="translate(799.54,477.5) scale(0.9555,1)" stroke="#000" stroke-width="0.55"><text font-size="24.5">R</text><text x="17.69" y="-9.6" font-size="14.5">2</text><text x="25.76" font-size="24.5">= 0.154</text><g fill="#fff" stroke="none"><rect x="67.70" y="-2.56" width="5.47" height="4.01"/><rect x="75.93" y="-2.56" width="5.28" height="4.01"/></g></g>
<g transform="translate(800.37,504.2) scale(0.9473,1)"><text font-size="24.5" stroke="#000" stroke-width="0.55">p= 0.010</text><g fill="#fff"><rect x="69.19" y="-2.56" width="5.47" height="4.01"/><rect x="77.42" y="-2.56" width="5.28" height="4.01"/></g></g>
<g transform="translate(170.33,1069.5) scale(0.9607,1)" stroke="#000" stroke-width="0.55"><text font-size="24.5">R</text><text x="17.69" y="-9.6" font-size="14.5">2</text><text x="25.76" font-size="24.5">= 0.00297</text><g fill="#fff" stroke="none"></g></g>
<text transform="translate(171.25,1096.25) scale(0.9595,1)" font-size="24.5" stroke="#000" stroke-width="0.55">p= 0.732</text>
<g transform="translate(798.83,1065.75) scale(0.9644,1)" stroke="#000" stroke-width="0.55"><text font-size="24.5">R</text><text x="17.69" y="-9.6" font-size="14.5">2</text><text x="25.76" font-size="24.5">= 0.140</text><g fill="#fff" stroke="none"><rect x="67.70" y="-2.56" width="5.47" height="4.01"/><rect x="75.93" y="-2.56" width="5.28" height="4.01"/></g></g>
<g transform="translate(800.01,1092.5) scale(0.9517,1)"><text font-size="24.5" stroke="#000" stroke-width="0.55">p= 0.015</text><g fill="#fff"><rect x="69.19" y="-2.56" width="5.47" height="4.01"/><rect x="77.42" y="-2.56" width="5.28" height="4.01"/></g></g>
<text transform="translate(27.0,781.20) rotate(-90) scale(0.9084,1)" font-size="33" stroke="#000" stroke-width="0.55">Maximum</text>
<text transform="translate(27.0,637.09) rotate(-90) scale(0.8996,1)" font-size="33" stroke="#000" stroke-width="0.55">change</text>
<text transform="translate(27.0,530.08) rotate(-90) scale(1.0125,1)" font-size="33" stroke="#000" stroke-width="0.55">in</text>
<text transform="translate(62.8,776.85) rotate(-90) scale(0.8985,1)" font-size="33" stroke="#000" stroke-width="0.55">burst</text>
<text transform="translate(62.8,698.90) rotate(-90) scale(0.9094,1)" font-size="33" stroke="#000" stroke-width="0.55">amplitude</text>
<text transform="translate(62.8,558.19) rotate(-90) scale(0.7100,1)" font-size="33" stroke="#000" stroke-width="0.55">(</text>
<text transform="translate(62.8,548.45) rotate(-90) scale(0.8878,1)" font-size="33" stroke="#000" stroke-width="0.55">%</text>
<text transform="translate(62.8,519.78) rotate(-90) scale(0.6291,1)" font-size="33" stroke="#000" stroke-width="0.55">)</text>
<text transform="translate(659.2,781.20) rotate(-90) scale(0.9084,1)" font-size="33" stroke="#000" stroke-width="0.55">Maximum</text>
<text transform="translate(659.2,637.09) rotate(-90) scale(0.8996,1)" font-size="33" stroke="#000" stroke-width="0.55">change</text>
<text transform="translate(659.2,530.08) rotate(-90) scale(1.0125,1)" font-size="33" stroke="#000" stroke-width="0.55">in</text>
<text transform="translate(695.2,776.85) rotate(-90) scale(0.8985,1)" font-size="33" stroke="#000" stroke-width="0.55">burst</text>
<text transform="translate(695.2,698.90) rotate(-90) scale(0.9094,1)" font-size="33" stroke="#000" stroke-width="0.55">amplitude</text>
<text transform="translate(695.2,558.19) rotate(-90) scale(0.7100,1)" font-size="33" stroke="#000" stroke-width="0.55">(</text>
<text transform="translate(695.2,548.45) rotate(-90) scale(0.8878,1)" font-size="33" stroke="#000" stroke-width="0.55">%</text>
<text transform="translate(695.2,519.78) rotate(-90) scale(0.6291,1)" font-size="33" stroke="#000" stroke-width="0.55">)</text>
<text transform="translate(27.0,1376.80) rotate(-90) scale(0.9084,1)" font-size="33" stroke="#000" stroke-width="0.55">Maximum</text>
<text transform="translate(27.0,1232.69) rotate(-90) scale(0.8996,1)" font-size="33" stroke="#000" stroke-width="0.55">change</text>
<text transform="translate(27.0,1125.68) rotate(-90) scale(1.0125,1)" font-size="33" stroke="#000" stroke-width="0.55">in</text>
<text transform="translate(62.8,1370.95) rotate(-90) scale(0.8985,1)" font-size="33" stroke="#000" stroke-width="0.55">burst</text>
<text transform="translate(62.8,1293.00) rotate(-90) scale(0.9094,1)" font-size="33" stroke="#000" stroke-width="0.55">amplitude</text>
<text transform="translate(62.8,1152.29) rotate(-90) scale(0.7100,1)" font-size="33" stroke="#000" stroke-width="0.55">(</text>
<text transform="translate(62.8,1142.55) rotate(-90) scale(0.8878,1)" font-size="33" stroke="#000" stroke-width="0.55">%</text>
<text transform="translate(62.8,1113.88) rotate(-90) scale(0.6291,1)" font-size="33" stroke="#000" stroke-width="0.55">)</text>
<text transform="translate(659.2,1375.50) rotate(-90) scale(0.9084,1)" font-size="33" stroke="#000" stroke-width="0.55">Maximum</text>
<text transform="translate(659.2,1231.39) rotate(-90) scale(0.8996,1)" font-size="33" stroke="#000" stroke-width="0.55">change</text>
<text transform="translate(659.2,1124.38) rotate(-90) scale(1.0125,1)" font-size="33" stroke="#000" stroke-width="0.55">in</text>
<text transform="translate(695.7,1369.05) rotate(-90) scale(0.8985,1)" font-size="33" stroke="#000" stroke-width="0.55">burst</text>
<text transform="translate(695.7,1291.10) rotate(-90) scale(0.9094,1)" font-size="33" stroke="#000" stroke-width="0.55">amplitude</text>
<text transform="translate(695.7,1150.39) rotate(-90) scale(0.7100,1)" font-size="33" stroke="#000" stroke-width="0.55">(</text>
<text transform="translate(695.7,1140.65) rotate(-90) scale(0.8878,1)" font-size="33" stroke="#000" stroke-width="0.55">%</text>
<text transform="translate(695.7,1111.98) rotate(-90) scale(0.6291,1)" font-size="33" stroke="#000" stroke-width="0.55">)</text>
<text transform="translate(189.74,933.9) scale(0.9607,1)" font-size="32" stroke="#000" stroke-width="0.55">Baseline</text>
<text transform="translate(315.35,933.9) scale(0.9259,1)" font-size="32" stroke="#000" stroke-width="0.55">burst</text>
<text transform="translate(392.33,933.9) scale(0.9204,1)" font-size="32" stroke="#000" stroke-width="0.55">frequency</text>
<text transform="translate(285.14,970) scale(0.6905,1)" font-size="32" stroke="#000" stroke-width="0.55">(</text>
<text transform="translate(294.32,970) scale(0.9394,1)" font-size="32" stroke="#000" stroke-width="0.55">bursts/min</text>
<text transform="translate(434.52,970) scale(0.6607,1)" font-size="32" stroke="#000" stroke-width="0.55">)</text>
<text transform="translate(787.76,928) scale(0.9535,1)" font-size="32" stroke="#000" stroke-width="0.55">Baseline</text>
<text transform="translate(913.28,928) scale(0.9092,1)" font-size="32" stroke="#000" stroke-width="0.55">burst</text>
<text transform="translate(990.79,928) scale(0.9464,1)" font-size="32" stroke="#000" stroke-width="0.55">duration</text>
<text transform="translate(1111.12,928) scale(0.7024,1)" font-size="32" stroke="#000" stroke-width="0.55">(</text>
<text transform="translate(1119.64,928) scale(0.9896,1)" font-size="32" stroke="#000" stroke-width="0.55">ms</text>
<text transform="translate(1163.92,928) scale(0.6429,1)" font-size="32" stroke="#000" stroke-width="0.55">)</text>
<text transform="translate(139.75,1522.5) scale(0.9577,1)" font-size="32" stroke="#000" stroke-width="0.55">Baseline</text>
<text transform="translate(265.39,1522.5) scale(0.9077,1)" font-size="32" stroke="#000" stroke-width="0.55">burst</text>
<text transform="translate(342.03,1522.5) scale(0.9579,1)" font-size="32" stroke="#000" stroke-width="0.55">peak</text>
<text transform="translate(418.37,1522.5) scale(0.9167,1)" font-size="32" stroke="#000" stroke-width="0.55">percent</text>
<text transform="translate(529.99,1522.5) scale(0.7673,1)" font-size="32" stroke="#000" stroke-width="0.55">(</text>
<text transform="translate(540.16,1522.5) scale(0.9568,1)" font-size="32" stroke="#000" stroke-width="0.55">%</text>
<text transform="translate(570.10,1522.5) scale(0.6803,1)" font-size="32" stroke="#000" stroke-width="0.55">)</text>
<text transform="translate(849.80,1522.5) scale(0.9368,1)" font-size="32" stroke="#000" stroke-width="0.55">Maximum</text>
<text transform="translate(990.80,1522.5) scale(0.9502,1)" font-size="32" stroke="#000" stroke-width="0.55">percent</text>
<text transform="translate(813.59,1557) scale(0.9150,1)" font-size="32" stroke="#000" stroke-width="0.55">frequency</text>
<text transform="translate(956.38,1557) scale(0.9548,1)" font-size="32" stroke="#000" stroke-width="0.55">decrease</text>
<text transform="translate(1091.04,1557) scale(0.7442,1)" font-size="32" stroke="#000" stroke-width="0.55">(</text>
<text transform="translate(1100.92,1557) scale(0.9296,1)" font-size="32" stroke="#000" stroke-width="0.55">%</text>
<text transform="translate(1130.03,1557) scale(0.6596,1)" font-size="32" stroke="#000" stroke-width="0.55">)</text>
</svg>
</body></html>
